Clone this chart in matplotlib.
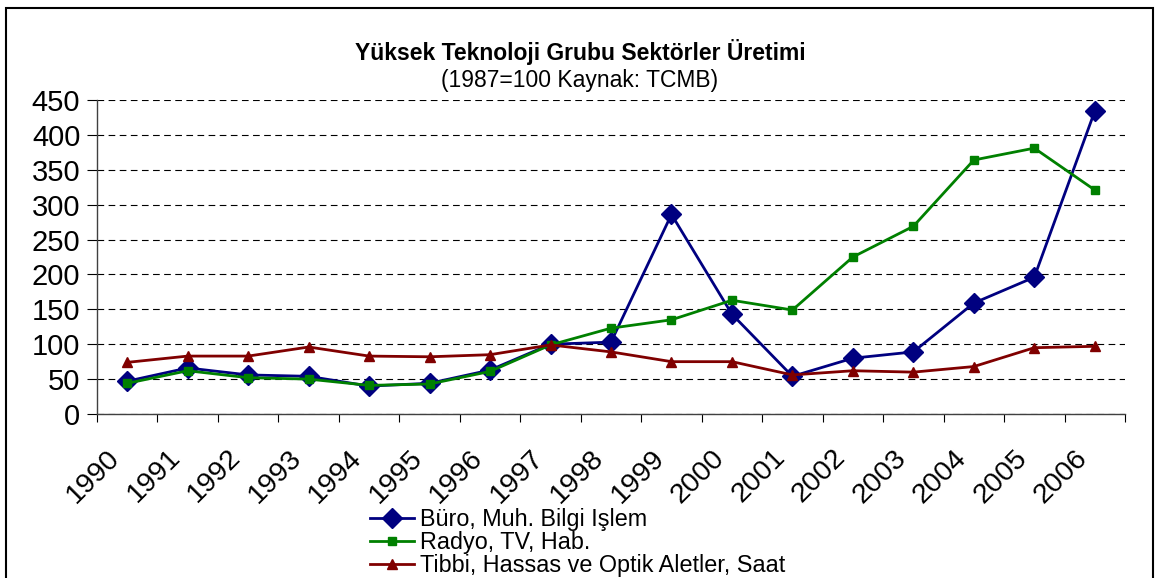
import matplotlib
matplotlib.use("Agg")
import matplotlib.pyplot as plt
import matplotlib.transforms as mtransforms
from matplotlib.patches import Rectangle
import numpy as np

plt.rcParams['font.family'] = ['Liberation Sans', 'DejaVu Sans']

# ---- data ----
years = [str(y) for y in range(1990, 2007)]
buro = [47, 66, 56, 54, 40, 44, 63, 100, 103, 286, 143, 54, 80, 89, 159, 196, 434]
radyo = [44, 62, 52, 50, 41, 43, 61, 99, 123, 135, 163, 149, 225, 269, 364, 381, 321]
tibbi = [74, 83, 83, 96, 83, 82, 85, 99, 89, 75, 75, 56, 62, 60, 68, 95, 97]
series_names = ["Büro, Muh. Bilgi Işlem", "Radyo, TV, Hab.",
                "Tibbi, Hassas ve Optik Aletler, Saat"]

fig = plt.figure(figsize=(11.6, 5.78), dpi=100)
ax = fig.add_axes([97 / 1160, 1 - 414 / 578, (1125 - 97) / 1160, (414 - 100) / 578])

# points sit in the middle of each year category
x = np.arange(len(years)) + 0.5
ax.plot(x, buro, color='#000080', lw=2.0, marker='D', markersize=10, label=series_names[0])
ax.plot(x, radyo, color='#008000', lw=2.0, marker='s', markersize=6, label=series_names[1])
ax.plot(x, tibbi, color='#800000', lw=2.0, marker='^', markersize=7, label=series_names[2])

ax.set_xlim(0, len(years))
ax.set_ylim(0, 450)
ax.set_yticks(range(0, 451, 50))
ax.tick_params(axis='y', labelsize=21, direction='out', length=7, width=0.8, pad=5)

ax.set_xticks(np.arange(len(years) + 1))
ax.set_xticklabels(years + [""], rotation=45, ha='right', rotation_mode='anchor', fontsize=20.5)
ax.tick_params(axis='x', direction='out', length=6, width=0.8, pad=16)
offset = mtransforms.ScaledTranslation(10 / 100, 0, fig.dpi_scale_trans)
for lab in ax.get_xticklabels():
    lab.set_transform(lab.get_transform() + offset)

ax.yaxis.grid(True, color='black', linestyle=(0, (6, 4)), lw=0.8)
ax.set_axisbelow(True)
for s in ['top', 'right']:
    ax.spines[s].set_visible(False)
for s in ['left', 'bottom']:
    ax.spines[s].set_color('#404040')
    ax.spines[s].set_linewidth(1.0)

fig.text(0.5, 1 - 52 / 578, "Yüksek Teknoloji Grubu Sektörler Üretimi",
         ha='center', va='center', fontsize=16.5, fontweight='bold')
fig.text(0.5, 1 - 80 / 578, "(1987=100 Kaynak: TCMB)",
         ha='center', va='center', fontsize=16.5)

fig.legend(loc='upper left', bbox_to_anchor=(370 / 1160, 1 - 508 / 578),
           frameon=False, fontsize=16.8, handlelength=1.9, handletextpad=0.25,
           labelspacing=0.0, borderaxespad=0, borderpad=0)

# chart border (bottom edge falls outside the picture)
fig.patches.append(Rectangle((6 / 1160, -0.1), (1153 - 6) / 1160, 1.1 - 8 / 578,
                             transform=fig.transFigure, fill=False,
                             edgecolor='black', lw=1.5))

fig.savefig("out.png", dpi=100)
